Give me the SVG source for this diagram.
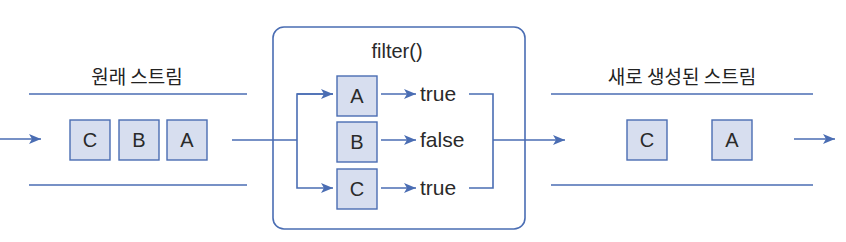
<svg xmlns="http://www.w3.org/2000/svg" width="846" height="242" viewBox="0 0 846 242">
<style>
.ln{stroke:#4a6db3;stroke-width:1.6;fill:none}
.bx{fill:#d7deef;stroke:#4a6db3;stroke-width:1.4}
.lt{font-family:"Liberation Sans",Arial,sans-serif;font-size:20px;fill:#2a2a2a;text-anchor:middle}
.tt{font-family:"Liberation Sans",Arial,sans-serif;font-size:21px;fill:#2a2a2a}
.kr{font-family:"Noto Sans CJK KR","Noto Sans",sans-serif;font-size:19px;fill:#222;text-anchor:middle}
</style>
<defs>
<marker id="ah" viewBox="0 0 12 10" refX="12" refY="5" markerWidth="12" markerHeight="10" markerUnits="userSpaceOnUse" orient="auto">
<path d="M0,0 L12,5 L0,10 L3,5 Z" fill="#4a6db3"/>
</marker>
</defs>
<g id="filter">
<rect x="273" y="27" width="252" height="202" rx="11" fill="#fff" stroke="#4a6db3" stroke-width="1.6"/>
<text class="lt" x="397" y="58">filter()</text>
<g id="f-A"><rect class="bx" x="337" y="76" width="40" height="40"/><text class="lt" x="357" y="103">A</text></g>
<g id="f-B"><rect class="bx" x="337" y="122" width="40" height="40"/><text class="lt" x="357" y="149">B</text></g>
<g id="f-C"><rect class="bx" x="337" y="169" width="40" height="40"/><text class="lt" x="357" y="196">C</text></g>
<text class="tt" x="420" y="101">true</text>
<text class="tt" x="420" y="147">false</text>
<text class="tt" x="420" y="195">true</text>
</g>
<g id="source-stream">
<text class="kr" x="137" y="84">원래 스트림</text>
<g id="src-C"><rect class="bx" x="70" y="120" width="40" height="40"/><text class="lt" x="90" y="147">C</text></g>
<g id="src-B"><rect class="bx" x="119" y="120" width="40" height="40"/><text class="lt" x="139" y="147">B</text></g>
<g id="src-A"><rect class="bx" x="167" y="120" width="40" height="40"/><text class="lt" x="187" y="147">A</text></g>
</g>
<g id="result-stream">
<text class="kr" x="682" y="84">새로 생성된 스트림</text>
<g id="res-C"><rect class="bx" x="627" y="120" width="40" height="40"/><text class="lt" x="647" y="147">C</text></g>
<g id="res-A"><rect class="bx" x="712" y="120" width="40" height="40"/><text class="lt" x="732" y="147">A</text></g>
</g>
<g id="connectors">
<line class="ln" x1="29" y1="94" x2="247" y2="94"/>
<line class="ln" x1="29" y1="185" x2="247" y2="185"/>
<line class="ln" x1="551" y1="94" x2="813" y2="94"/>
<line class="ln" x1="551" y1="185" x2="813" y2="185"/>
<line class="ln" x1="0" y1="139" x2="41" y2="139" marker-end="url(#ah)"/>
<polyline class="ln" points="232,140 297,140"/>
<polyline class="ln" points="333,94 297,94 297,188 333,188" marker-end="url(#ah)"/>
<line class="ln" x1="297" y1="94" x2="333" y2="94" marker-end="url(#ah)"/>
<line class="ln" x1="381" y1="94" x2="416" y2="94" marker-end="url(#ah)"/>
<line class="ln" x1="381" y1="140" x2="416" y2="140" marker-end="url(#ah)"/>
<line class="ln" x1="381" y1="188" x2="416" y2="188" marker-end="url(#ah)"/>
<polyline class="ln" points="469,94 493,94 493,188 469,188"/>
<line class="ln" x1="493" y1="140" x2="565" y2="140" marker-end="url(#ah)"/>
<line class="ln" x1="794" y1="139" x2="835" y2="139" marker-end="url(#ah)"/>
</g>
</svg>
